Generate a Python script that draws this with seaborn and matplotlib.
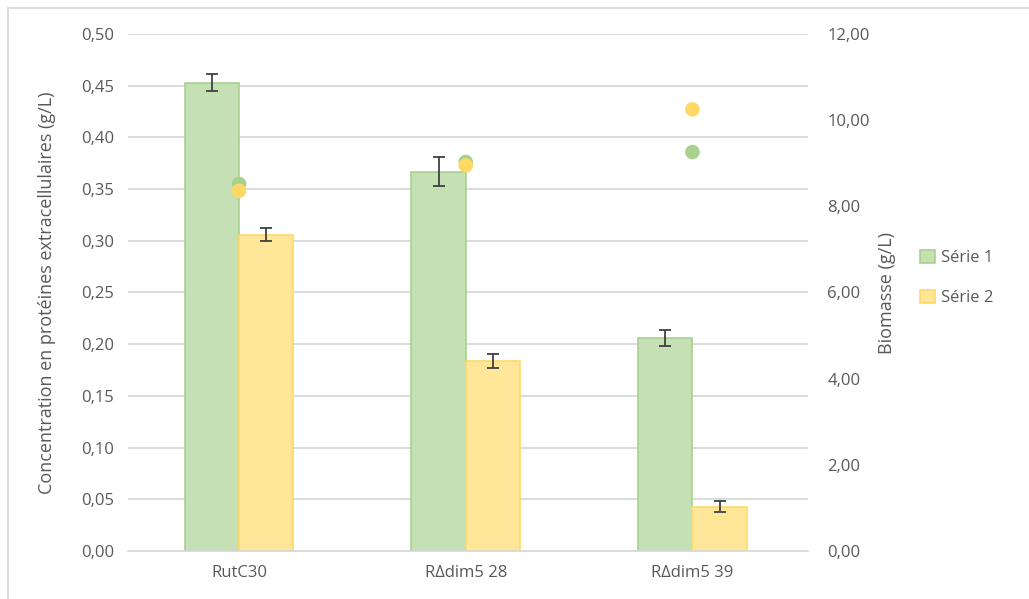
import matplotlib
matplotlib.use("Agg")
import matplotlib.pyplot as plt
import seaborn as sns
import pandas as pd
from matplotlib.patches import Patch
from matplotlib.ticker import FuncFormatter, MultipleLocator

# data
strains = ["RutC30", "R\u0394dim5 28", "R\u0394dim5 39"]
series = ["Série 1", "Série 2"]
protein_s1 = [0.453, 0.367, 0.206]
protein_s2 = [0.306, 0.184, 0.043]
protein_err_s1 = [0.008, 0.014, 0.008]
protein_err_s2 = [0.006, 0.007, 0.005]
biomass_s1 = [8.52, 9.03, 9.26]
biomass_s2 = [8.36, 8.95, 10.25]

green_fill, green_edge = "#C5E0B4", "#A9D18E"
yellow_fill, yellow_edge = "#FFE699", "#FFD966"
text_grey = "#595959"
grid_grey = "#D9D9D9"

bars = pd.DataFrame({
    "strain": strains * 2,
    "serie": [series[0]] * 3 + [series[1]] * 3,
    "protein": protein_s1 + protein_s2,
    "err": protein_err_s1 + protein_err_s2,
})
dots = pd.DataFrame({
    "strain": strains * 2,
    "serie": [series[0]] * 3 + [series[1]] * 3,
    "biomass": biomass_s1 + biomass_s2,
})

sns.set_style("white")
plt.rcParams["font.family"] = ["Open Sans", "DejaVu Sans"]

fig = plt.figure(figsize=(10.29, 5.99), dpi=100)
ax1 = fig.add_axes([128 / 1029, 1 - 551 / 599, 680 / 1029, 517 / 599])

sns.barplot(
    data=bars, x="strain", y="protein", hue="serie",
    palette=[green_fill, yellow_fill], saturation=1, width=0.48, gap=0,
    errorbar=None, legend=False, ax=ax1,
)
edges = [green_edge] * 3 + [yellow_edge] * 3
for patch, ec in zip(ax1.patches, edges):
    patch.set_edgecolor(ec)
    patch.set_linewidth(1.2)

# error bars on bar centres
xs = [p.get_x() + p.get_width() / 2 for p in ax1.patches[:6]]
ax1.errorbar(xs, bars["protein"], yerr=bars["err"], fmt="none",
             ecolor="#404040", elinewidth=1.3, capsize=4.5, capthick=1.3, zorder=5)

ax1.set_xlim(-0.49, 2.51)
ax1.set_ylim(0, 0.5)
ax1.yaxis.set_major_locator(MultipleLocator(0.05))
ax1.yaxis.set_major_formatter(FuncFormatter(lambda v, _: f"{v:.2f}".replace(".", ",")))
ax1.grid(axis="y", color=grid_grey, linewidth=1.3)
ax1.set_axisbelow(True)
for s in ["top", "right", "left"]:
    ax1.spines[s].set_visible(False)
ax1.spines["bottom"].set_color(grid_grey)
ax1.spines["bottom"].set_linewidth(1.3)
ax1.tick_params(axis="both", length=0, labelsize=12, colors=text_grey, pad=10)
ax1.set_xlabel("")
ax1.set_ylabel("Concentration en protéines extracellulaires (g/L)",
               fontsize=13, color=text_grey, labelpad=18)

ax2 = ax1.twinx()
sns.scatterplot(
    data=dots, x="strain", y="biomass", hue="serie",
    palette=[green_edge, yellow_edge], s=110, edgecolor="none",
    legend=False, ax=ax2, zorder=6,
)
ax2.set_ylim(0, 12)
ax2.yaxis.set_major_locator(MultipleLocator(2))
ax2.yaxis.set_major_formatter(FuncFormatter(lambda v, _: f"{v:.2f}".replace(".", ",")))
for s in ["top", "right", "left", "bottom"]:
    ax2.spines[s].set_visible(False)
ax2.tick_params(axis="y", length=0, labelsize=12, colors=text_grey, pad=14)
ax2.set_ylabel("Biomasse (g/L)", fontsize=13, color=text_grey, labelpad=6)
ax2.set_xlabel("")

handles = [
    Patch(facecolor=green_fill, edgecolor=green_edge, linewidth=1.2, label=series[0]),
    Patch(facecolor=yellow_fill, edgecolor=yellow_edge, linewidth=1.2, label=series[1]),
]
fig.legend(handles=handles, loc="center left", bbox_to_anchor=(905 / 1029, 1 - 278 / 599),
           frameon=False, fontsize=12, labelcolor=text_grey,
           handlelength=0.9, handleheight=0.9, handletextpad=0.35, labelspacing=1.4)

# chart area border
fig.add_artist(plt.Line2D([8 / 1029, 8 / 1029], [0, 1 - 8 / 599], transform=fig.transFigure,
                          color=grid_grey, linewidth=1.3))
fig.add_artist(plt.Line2D([8 / 1029, 1], [1 - 8 / 599, 1 - 8 / 599], transform=fig.transFigure,
                          color=grid_grey, linewidth=1.3))

fig.savefig("out.png", dpi=100)
